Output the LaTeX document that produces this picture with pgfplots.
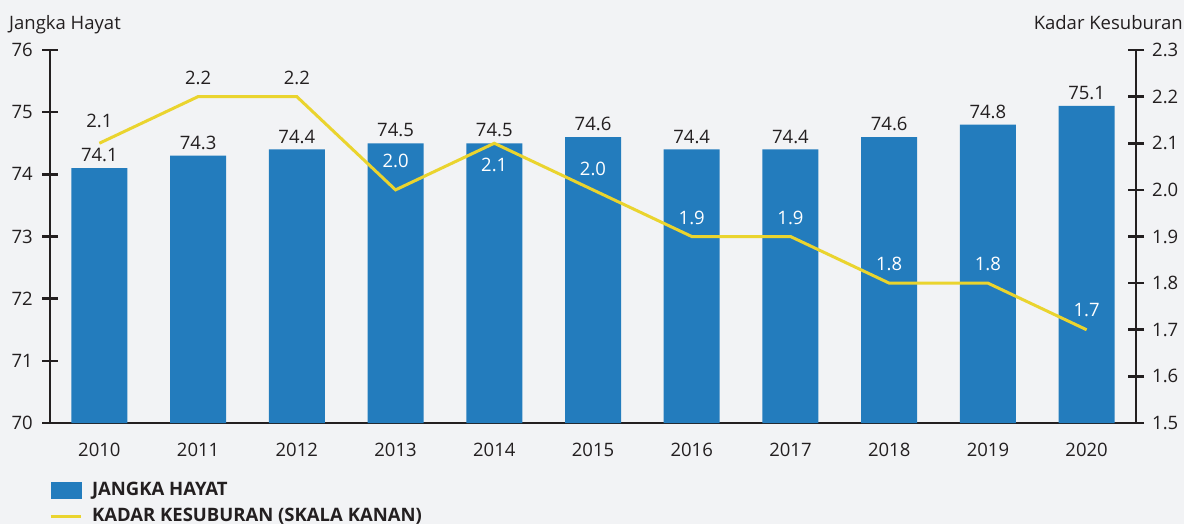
\documentclass[border=0pt]{standalone}
\usepackage{fontspec}
\setmainfont{Open Sans}
\usepackage{pgfplots}
\pgfplotsset{compat=1.18}
\definecolor{bg}{RGB}{242,243,245}
\definecolor{barblue}{RGB}{35,124,189}
\definecolor{lineyellow}{RGB}{234,212,46}
\definecolor{txt}{RGB}{35,31,32}
\newcommand{\chartfont}{\fontsize{18.5bp}{22bp}\selectfont}
\begin{document}
\chartfont
\begin{tikzpicture}
\fill[bg] (-50bp,-101bp) rectangle (1134bp,423bp);
\useasboundingbox (-50bp,-101bp) rectangle (1134bp,423bp);
\begin{axis}[
  at={(0,0)}, anchor=south west,
  width=1086bp, height=373bp, scale only axis,
  xmin=-0.5, xmax=10.5, ymin=70, ymax=76,
  axis x line*=bottom, axis y line*=left,
  axis line style={line width=2.6bp, draw=txt, -},
  xtick={0,...,10},
  xticklabels={2010,2011,2012,2013,2014,2015,2016,2017,2018,2019,2020},
  x tick style={draw=none},
  ytick={70,71,72,73,74,75,76},
  y tick style={line width=2.6bp, draw=txt},
  tick align=center, major tick length=16bp,
  ticklabel style={font=\chartfont, text=txt, inner sep=0pt},
  xticklabel style={yshift=-12bp},
  yticklabel style={xshift=-9bp},
  /pgf/number format/assume math mode=true,
  legend style={at={(axis description cs:-0.0009,-0.158)}, anchor=north west,
    draw=none, fill=none, inner sep=0pt, outer sep=0pt,
    row sep=9bp, column sep=10bp,
    nodes={inner sep=0pt, font=\chartfont\bfseries, text=txt}},
  legend cell align=left,
]
\addplot[ybar, bar width=56bp, fill=barblue, draw=none,
  nodes near coords,
  nodes near coords style={font=\chartfont, text=txt, anchor=south, inner sep=0pt, yshift=6bp,
    /pgf/number format/fixed, /pgf/number format/fixed zerofill, /pgf/number format/precision=1},
  legend image code/.code={\fill[barblue] (0bp,-8.5bp) rectangle (31bp,8.5bp);}
] coordinates {
(0,74.1) (1,74.3) (2,74.4) (3,74.5) (4,74.5) (5,74.6) (6,74.4) (7,74.4) (8,74.6) (9,74.8) (10,75.1)
};
\addlegendentry{JANGKA HAYAT}
\addlegendimage{legend image code/.code={\draw[lineyellow, line width=3bp] (0bp,0bp) -- (30bp,0bp);}}
\addlegendentry{KADAR KESUBURAN (SKALA KANAN)}
\end{axis}
\begin{axis}[
  at={(0,0)}, anchor=south west,
  width=1086bp, height=373bp, scale only axis,
  xmin=-0.5, xmax=10.5, ymin=1.5, ymax=2.3,
  axis x line=none, axis y line*=right,
  axis line style={line width=2.6bp, draw=txt, -},
  ytick={1.5,1.6,1.7,1.8,1.9,2.0,2.1,2.2,2.3},
  y tick style={line width=2.6bp, draw=txt},
  tick align=center, major tick length=16bp,
  ticklabel style={font=\chartfont, text=txt, inner sep=0pt},
  yticklabel style={xshift=8bp, /pgf/number format/fixed, /pgf/number format/fixed zerofill, /pgf/number format/precision=1},
  /pgf/number format/assume math mode=true,
]
\addplot[lineyellow, line width=3bp, mark=none,
  nodes near coords,
  visualization depends on={\thisrow{off} \as \myoff},
  visualization depends on={value \thisrow{c} \as \mycol},
  nodes near coords style={font=\chartfont, anchor=center, inner sep=0pt,
    yshift=\myoff bp, text=\mycol,
    /pgf/number format/fixed, /pgf/number format/fixed zerofill, /pgf/number format/precision=1}
] table[x=x, y=y] {
x y off c
0 2.1 22 txt
1 2.2 19 txt
2 2.2 19 txt
3 2.0 29 white
4 2.1 -22 white
5 2.0 21 white
6 1.9 19 white
7 1.9 19 white
8 1.8 19 white
9 1.8 19 white
10 1.7 20 white
};
\end{axis}
\node[anchor=base west, text=txt, inner sep=0pt] at (-41bp,393bp) {Jangka Hayat};
\node[anchor=base east, text=txt, inner sep=0pt] at (1133bp,393bp) {Kadar Kesuburan};
\end{tikzpicture}
\end{document}
